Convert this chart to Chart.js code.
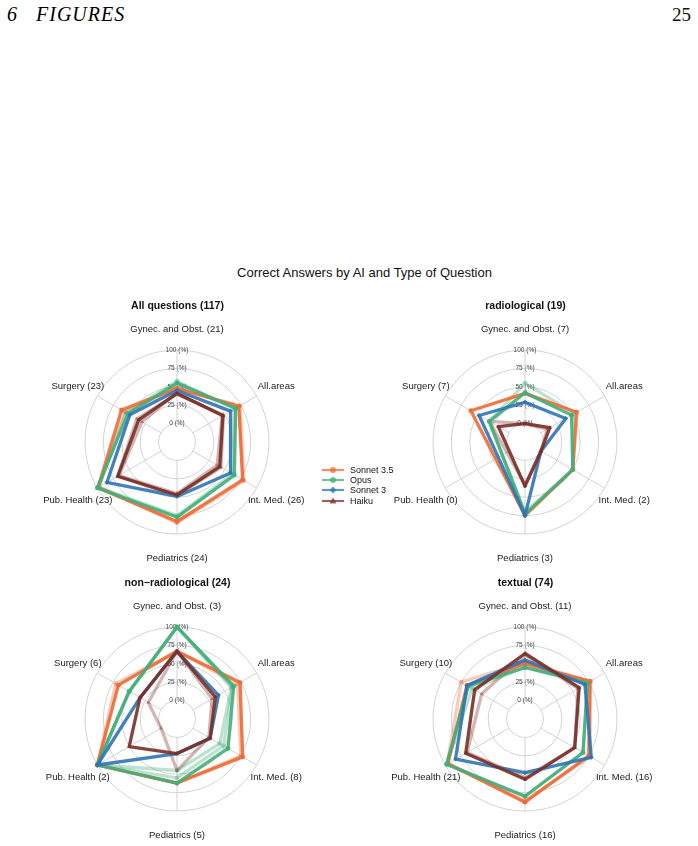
<!DOCTYPE html>
<html>
<head>
<meta charset="utf-8">
<script src="https://cdn.jsdelivr.net/npm/chart.js@4.4.1/dist/chart.umd.min.js"></script>
<style>
  html, body { margin: 0; padding: 0; background: #fff; }
  body { width: 698px; height: 846px; position: relative; overflow: hidden;
         font-family: "Liberation Sans", Arial, sans-serif; color: #111; }
  .hdr { position: absolute; font-family: "Liberation Serif", "DejaVu Serif", serif; font-size: 20px; line-height: 20px; color: #000; }
  #pageNum { position: absolute; top: 5px; left: 672px; font-family: "Liberation Serif", serif; font-size: 19px; line-height: 20px; }
  #mainTitle { position: absolute; top: 265px; left: 0; width: 729px; text-align: center; font-size: 13px; line-height: 16px; color: #111; }
  canvas.panel { position: absolute; }
  #legend { position: absolute; left: 321px; top: 465px; font-size: 9px; color: #111; }
  #legend .item { height: 10.2px; display: flex; align-items: center; white-space: nowrap; }
  #legend svg { margin-right: 5px; }
</style>
</head>
<body>
<div class="hdr" style="left:7px;top:4px;font-style:italic;">6</div>
<div class="hdr" style="left:36px;top:4px;font-style:italic;letter-spacing:1px;">FIGURES</div>
<div id="pageNum">25</div>
<div id="mainTitle">Correct Answers by AI and Type of Question</div>

<canvas class="panel" id="c1" width="348" height="278" style="left:3px;top:290px;width:348px;height:278px;"></canvas>
<canvas class="panel" id="c2" width="348" height="278" style="left:351px;top:290px;width:348px;height:278px;"></canvas>
<canvas class="panel" id="c3" width="348" height="278" style="left:3px;top:567px;width:348px;height:278px;"></canvas>
<canvas class="panel" id="c4" width="348" height="278" style="left:351px;top:567px;width:348px;height:278px;"></canvas>
<div id="legend"></div>

<script>
// ---------------- DATA ----------------
const categories = ["Gynec. and Obst.", "All.areas", "Int. Med.", "Pediatrics", "Pub. Health", "Surgery"];
const models = ["Sonnet 3.5", "Opus", "Sonnet 3", "Haiku"];
const modelColors = ["#EE6A35", "#43AE79", "#2F74B5", "#7A2F27"];
const modelMarkers = ["circle", "circle", "rectRot", "triangle"];

const panelTitles = ["All questions (117)", "radiological (19)", "non\u2212radiological (24)", "textual (74)"];

// question counts per area (null = no count shown)
const allQCounts     = [21, null, 26, 24, 23, 23];
const radioCounts    = [7, null, 2, 3, 0, 7];
const nonRadioCounts = [3, null, 8, 5, 2, 6];
const textualCounts  = [11, null, 16, 16, 21, 10];

// radial ticks
const tickMin = -25;
const tickMax = 100;
const tickStep = 25;

// % correct, per model: first run = main, others = fainter repeated runs
// order: Gynec, All.areas, Int. Med., Pediatrics, Pub. Health, Surgery
const allQ_sonnet35 = [[48, 72, 78, 83, 99, 62], [47, 74, 80, 85, 97, 57]];
const allQ_opus     = [[55, 67, 65, 77, 100, 52], [58, 65, 62, 75, 98, 55]];
const allQ_sonnet3  = [[45, 59, 59, 49, 85, 49]];
const allQ_haiku    = [[41, 47, 42, 47, 68, 35], [42, 46, 38, 45, 66, 30], [40, 48, 44, 48, 68, 38]];

const radio_sonnet35 = [[41, 56, 50, 75, null, 60]];
const radio_opus     = [[42, 48, 50, 73, null, 31], [55, 52, 50, 70, null, 31]];
const radio_sonnet3  = [[29, 39, 0, 75, null, 47]];
const radio_haiku    = [[0, 14, 0, 35, null, 17], [0, 10, 0, 33, null, 31]];

const nonRadio_sonnet35 = [[67, 74, 78, 62, 100, 67], [67, 70, 75, 62, 100, 71]];
const nonRadio_opus     = [[100, 64, 55, 62, 100, 50], [100, 60, 42, 45, 100, 50], [100, 62, 48, 55, 100, 50]];
const nonRadio_sonnet3  = [[67, 40, 27, 22, 100, 33]];
const nonRadio_haiku    = [[67, 35, 27, 22, 50, 33], [67, 30, 25, 45, 0, 20]];

const textual_sonnet35 = [[50, 77, 75, 88, 96, 66], [52, 78, 77, 86, 97, 75]];
const textual_opus     = [[45, 73, 66, 80, 98, 64], [45, 73, 66, 80, 98, 58]];
const textual_sonnet3  = [[55, 69, 79, 48, 84, 66]];
const textual_haiku    = [[64, 60, 53, 57, 68, 54], [62, 58, 53, 55, 66, 43]];

// ---------------- HELPERS ----------------
const FONT = '"Liberation Sans", Arial, sans-serif';
function rgba(hex, a) {
  const n = parseInt(hex.slice(1), 16);
  return `rgba(${(n >> 16) & 255},${(n >> 8) & 255},${n & 255},${a})`;
}
function axisLabels(counts) {
  return categories.map((c, i) => counts[i] === null ? c : `${c} (${counts[i]})`);
}

const spokesAndLabels = {
  id: 'spokesAndLabels',
  beforeDatasetsDraw(chart) {
    const s = chart.scales.r, ctx = chart.ctx;
    const r0 = s.getDistanceFromCenterForValue(0);
    const r1 = s.getDistanceFromCenterForValue(tickMax);
    ctx.save();
    ctx.strokeStyle = '#d3d3d3';
    ctx.lineWidth = 1;
    for (let i = 0; i < chart.data.labels.length; i++) {
      const a = s.getPointPosition(i, r0), b = s.getPointPosition(i, r1);
      ctx.beginPath(); ctx.moveTo(a.x, a.y); ctx.lineTo(b.x, b.y); ctx.stroke();
    }
    ctx.restore();
  },
  afterDraw(chart) {
    const s = chart.scales.r, ctx = chart.ctx;
    ctx.save();
    ctx.font = `9.5px ${FONT}`;
    ctx.fillStyle = '#1a1a1a';
    ctx.textAlign = 'center';
    ctx.textBaseline = 'middle';
    chart.data.labels.forEach((lab, i) => {
      const p = s.getPointPosition(i, s.drawingArea * 1.245);
      ctx.fillText(lab, p.x, p.y + 1.5);
    });
    ctx.restore();
  }
};

function makePanel(id, title, counts, runsByModel) {
  const datasets = [];
  runsByModel.forEach((runs, m) => {
    runs.forEach((run, r) => {
      const main = r === 0;
      datasets.push({
        label: models[m],
        data: run,
        borderColor: rgba(modelColors[m], main ? 0.9 : 0.35),
        backgroundColor: rgba(modelColors[m], main ? 0.9 : 0.35),
        pointBackgroundColor: rgba(modelColors[m], main ? 0.9 : 0.35),
        pointBorderWidth: 0,
        pointRadius: 2.4,
        pointStyle: modelMarkers[m],
        borderWidth: 3.3,
        borderJoinStyle: 'round',
        fill: false,
        spanGaps: true,
        order: main ? 10 - m : 30 - m
      });
    });
  });
  return new Chart(document.getElementById(id), {
    type: 'radar',
    data: { labels: axisLabels(counts), datasets },
    options: {
      responsive: false,
      animation: false,
      events: [],
      layout: { padding: { left: 79, right: 78, top: 0, bottom: 30 } },
      plugins: {
        legend: { display: false },
        tooltip: { enabled: false },
        title: {
          display: true, text: title, color: '#111',
          font: { family: FONT, size: 10.5, weight: 'bold' },
          padding: { top: 10, bottom: 34.4 }
        }
      },
      scales: {
        r: {
          min: tickMin, max: tickMax,
          ticks: {
            stepSize: tickStep,
            callback: v => v < 0 ? '' : `${v} (%)`,
            font: { family: FONT, size: 6.5 },
            color: '#444',
            showLabelBackdrop: false,
            backdropPadding: 0
          },
          grid: {
            circular: true,
            lineWidth: 1,
            color: c => (c.tick && c.tick.value < 0) ? 'rgba(0,0,0,0)' : '#d3d3d3'
          },
          angleLines: { display: false },
          pointLabels: { display: false }
        }
      }
    },
    plugins: [spokesAndLabels]
  });
}

makePanel('c1', panelTitles[0], allQCounts, [allQ_sonnet35, allQ_opus, allQ_sonnet3, allQ_haiku]);
makePanel('c2', panelTitles[1], radioCounts, [radio_sonnet35, radio_opus, radio_sonnet3, radio_haiku]);
makePanel('c3', panelTitles[2], nonRadioCounts, [nonRadio_sonnet35, nonRadio_opus, nonRadio_sonnet3, nonRadio_haiku]);
makePanel('c4', panelTitles[3], textualCounts, [textual_sonnet35, textual_opus, textual_sonnet3, textual_haiku]);

// ---------------- LEGEND ----------------
const legendEl = document.getElementById('legend');
models.forEach((name, m) => {
  const col = rgba(modelColors[m], 0.75);
  let marker;
  if (modelMarkers[m] === 'circle') marker = `<circle cx="12" cy="5" r="3" fill="${col}"/>`;
  else if (modelMarkers[m] === 'rectRot') marker = `<polygon points="12,1.6 15.4,5 12,8.4 8.6,5" fill="${col}"/>`;
  else marker = `<polygon points="12,1.5 15.4,7.6 8.6,7.6" fill="${col}"/>`;
  const item = document.createElement('div');
  item.className = 'item';
  item.innerHTML = `<svg width="24" height="10"><line x1="1" y1="5" x2="23" y2="5" stroke="${col}" stroke-width="2.2"/>${marker}</svg><span>${name}</span>`;
  legendEl.appendChild(item);
});
</script>
</body>
</html>
